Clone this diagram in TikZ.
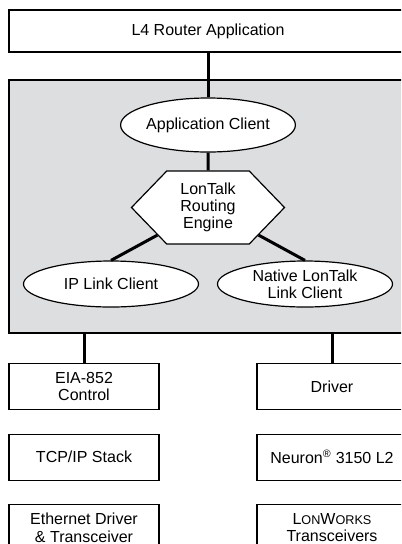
\documentclass[tikz,border=0pt]{standalone}
\usepackage{fontspec}
\setmainfont{Liberation Sans}
\usetikzlibrary{shapes,positioning,chains}
\definecolor{routercolor}{RGB}{221,222,224}

\begin{document}
\begin{tikzpicture}[%
    x=0.75pt, y=-0.75pt,             % work on the pixel grid of the sheet
    start chain=going below,         % both stacks run top-to-bottom
    node distance=53pt and 186pt,    % spacing of the stacked boxes
    font=\fontsize{12}{13}\selectfont,
    ]
\tikzset{
  base/.style={draw, line width=0.9pt, fill=white, align=center, inner sep=0pt},
  proc/.style={base, rectangle, on grid, on chain, minimum width=112.5pt, minimum height=34.5pt},
  term/.style={base, ellipse, minimum width=131.25pt, minimum height=34.5pt},
  hexa/.style={base, signal, signal to=west and east, signal pointer angle=92,
               minimum width=114.75pt, minimum height=54.75pt},
  link/.style={line width=2.25pt},
}
\useasboundingbox (0,0) rectangle (401,544);
\clip (0,0) rectangle (401,544);

\node [base, fill=routercolor, minimum width=298.5pt, minimum height=189.75pt] (p1) at (208,206.5) {};
\node [base, minimum width=298.5pt, minimum height=31.5pt] (p0) at (208,31) {L4 Router Application};
\node [term, minimum width=129.75pt, minimum height=40.5pt] (p2) at (208,125) {Application Client};
\node [hexa] (p3) at (208,207.5) {LonTalk\\Routing\\Engine};
\node [term] (p4) at (111,284) {IP Link Client};
\node [term] (p5) at (305,284) {Native LonTalk\\Link Client};

\node [proc] (p6) at (84,386.5) {EIA-852\\Control};
\node [proc] (p7) {TCP/IP Stack};
\node [proc] (p8) {Ethernet Driver\\\& Transceiver};

\node [proc,right=of p6] (p9) {Driver};
\node [proc] (p10) {Neuron\textsuperscript{\textregistered} 3150 L2};
\node [proc] (p11) {L{\fontsize{9.5}{13}\selectfont ON}W{\fontsize{9.5}{13}\selectfont ORKS}\\Transceivers};

%connect
\draw [link] (p0) -- (p2);
\draw [link] (p2) -- (p3);
\draw [link] (p3) -- (p4.north);
\draw [link] (p3) -- (p5.north);
\draw [link] (p6) -- (p6 |- p1.south);
\draw [link] (p9) -- (p9 |- p1.south);

\end{tikzpicture}
\end{document}
